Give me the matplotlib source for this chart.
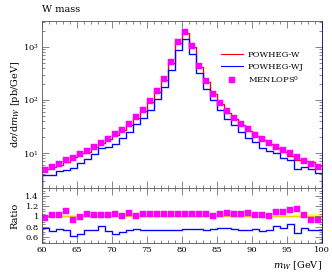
import numpy as np
import matplotlib
matplotlib.use('Agg')
import matplotlib.pyplot as plt
from matplotlib.ticker import MultipleLocator, LogLocator, NullFormatter

plt.rcParams['font.family'] = ['DejaVu Serif']
plt.rcParams['mathtext.fontset'] = 'dejavuserif'

# bin edges, 1 GeV bins from 60 to 100
edges = np.arange(60, 101, 1)
centers = edges[:-1] + 0.5

# Powheg-W (reference), pb/GeV
powheg_w = [4.92, 5.34, 6.02, 6.64, 8.59, 9.90, 10.43, 12.82, 15.39, 18.33,
            22.1, 27.5, 33.8, 46.5, 61.9, 90.0, 140.4, 241, 492, 1172,
            1866, 1000, 425, 217, 130, 84.2, 57.0, 43.8, 33.3, 26.2,
            21.3, 17.6, 15.0, 12.2, 10.6, 8.75, 7.49, 6.96, 6.74, 5.78]

# ratios to Powheg-W
ratio_wj = [0.77, 0.71, 0.76, 0.73, 0.61, 0.66, 0.74, 0.74, 0.82, 0.71,
            0.66, 0.70, 0.73, 0.75, 0.73, 0.73, 0.74, 0.73, 0.74, 0.74,
            0.745, 0.745, 0.745, 0.74, 0.76, 0.78, 0.78, 0.76, 0.74, 0.74,
            0.745, 0.71, 0.73, 0.82, 0.77, 0.85, 0.68, 0.78, 0.73, 0.74]
ratio_menlops = [0.975, 1.03, 1.03, 1.10, 0.92, 0.98, 1.045, 1.03, 1.02, 1.02,
                 1.04, 1.0, 1.065, 1.01, 1.05, 1.045, 1.04, 1.045, 1.045, 1.045,
                 1.045, 1.045, 1.045, 1.05, 1.01, 1.045, 1.07, 1.05, 1.05, 1.07,
                 1.035, 1.035, 1.01, 1.08, 1.08, 1.12, 1.135, 1.02, 0.92, 0.935]
# relative stat. error of the reference (yellow band)
ref_err = [0.03, 0.03, 0.03, 0.03, 0.03, 0.03, 0.025, 0.025, 0.025, 0.025,
           0.02, 0.02, 0.02, 0.02, 0.02, 0.02, 0.02, 0.02, 0.02, 0.02,
           0.02, 0.02, 0.02, 0.02, 0.02, 0.02, 0.02, 0.025, 0.025, 0.025,
           0.025, 0.03, 0.03, 0.03, 0.035, 0.035, 0.04, 0.04, 0.045, 0.045]

powheg_w = np.array(powheg_w)
powheg_wj = powheg_w * np.array(ratio_wj)
menlops = powheg_w * np.array(ratio_menlops)

W, H = 332, 272
fig = plt.figure(figsize=(W / 100, H / 100), dpi=100)
x0, x1 = 41.7, 321.7
ax = fig.add_axes([x0 / W, (H - 188) / H, (x1 - x0) / W, (188 - 20.7) / H])
axr = fig.add_axes([x0 / W, (H - 243) / H, (x1 - x0) / W, 55 / H])

red = '#ff0000'
blue = '#0000ff'
mag = '#ff00ff'

# main plot
ax.stairs(powheg_w, edges, color='#ffaaaa', lw=1.8, alpha=0.5)
ax.stairs(powheg_wj, edges, color='#aaaaff', lw=1.8, alpha=0.5)
ax.stairs(powheg_w, edges, color=red, lw=0.8, label='POWHEG-W')
ax.stairs(powheg_wj, edges, color=blue, lw=0.8, label='POWHEG-WJ')
ax.plot(centers, menlops, 's', color=mag, ms=4.4, mec=mag, mew=0.3,
        label=r'MENLOPS$^0$')
ax.set_yscale('log')
ax.set_xlim(60, 100)
ax.set_ylim(2.19, 3130)
ax.set_ylabel(r'd$\sigma$/d$m_W$ [pb/GeV]', fontsize=7, labelpad=1)
ax.text(0.0, 1.04, 'W mass', transform=ax.transAxes, fontsize=7, ha='left', va='bottom')
ax.legend(loc='upper left', bbox_to_anchor=(0.64, 0.82), frameon=False, fontsize=6,
          handlelength=2.6, handletextpad=0.6, borderpad=0, borderaxespad=0,
          labelspacing=0.45, markerscale=1.0)
ax.tick_params(axis='x', labelbottom=False)
ax.yaxis.set_major_locator(LogLocator(base=10, numticks=10))
ax.yaxis.set_minor_locator(LogLocator(base=10, subs=np.arange(2, 10), numticks=10))
ax.yaxis.set_minor_formatter(NullFormatter())

# ratio plot
axr.fill_between(edges, np.append(1 - np.array(ref_err), 1 - ref_err[-1]),
                 np.append(1 + np.array(ref_err), 1 + ref_err[-1]), step='post',
                 color='#ffff66', lw=0)
axr.stairs(np.ones(len(centers)), edges, color='#e8d800', lw=1.0)
axr.stairs(ratio_wj, edges, color='#aaaaff', lw=1.8, alpha=0.5)
axr.stairs(ratio_wj, edges, color=blue, lw=0.8)
axr.plot(centers, ratio_menlops, 's', color=mag, ms=4.4, mec=mag, mew=0.3)
axr.set_xlim(60, 100)
axr.set_ylim(0.48, 1.555)
axr.set_yticks([0.6, 0.8, 1.0, 1.2, 1.4])
axr.set_yticklabels(['0.6', '0.8', '1', '1.2', '1.4'])
axr.yaxis.set_minor_locator(MultipleLocator(0.05))
axr.set_ylabel('Ratio', fontsize=7, labelpad=4)
axr.set_xlabel(r'$m_W$ [GeV]', fontsize=7, labelpad=1)
axr.xaxis.set_label_coords(1.0, -0.3)
axr.xaxis.label.set_ha('right')

for a in (ax, axr):
    a.xaxis.set_major_locator(MultipleLocator(5))
    a.xaxis.set_minor_locator(MultipleLocator(1))
    a.tick_params(which='both', direction='in', top=True, right=True, labelsize=6,
                  width=0.5, color='#555555')
    a.tick_params(which='major', length=5, pad=2)
    a.tick_params(which='minor', length=2.5)
    for s in a.spines.values():
        s.set_linewidth(0.6)
        s.set_color('#555555')
    a.spines['right'].set_color('#000066')

fig.savefig('out.png', dpi=100)
